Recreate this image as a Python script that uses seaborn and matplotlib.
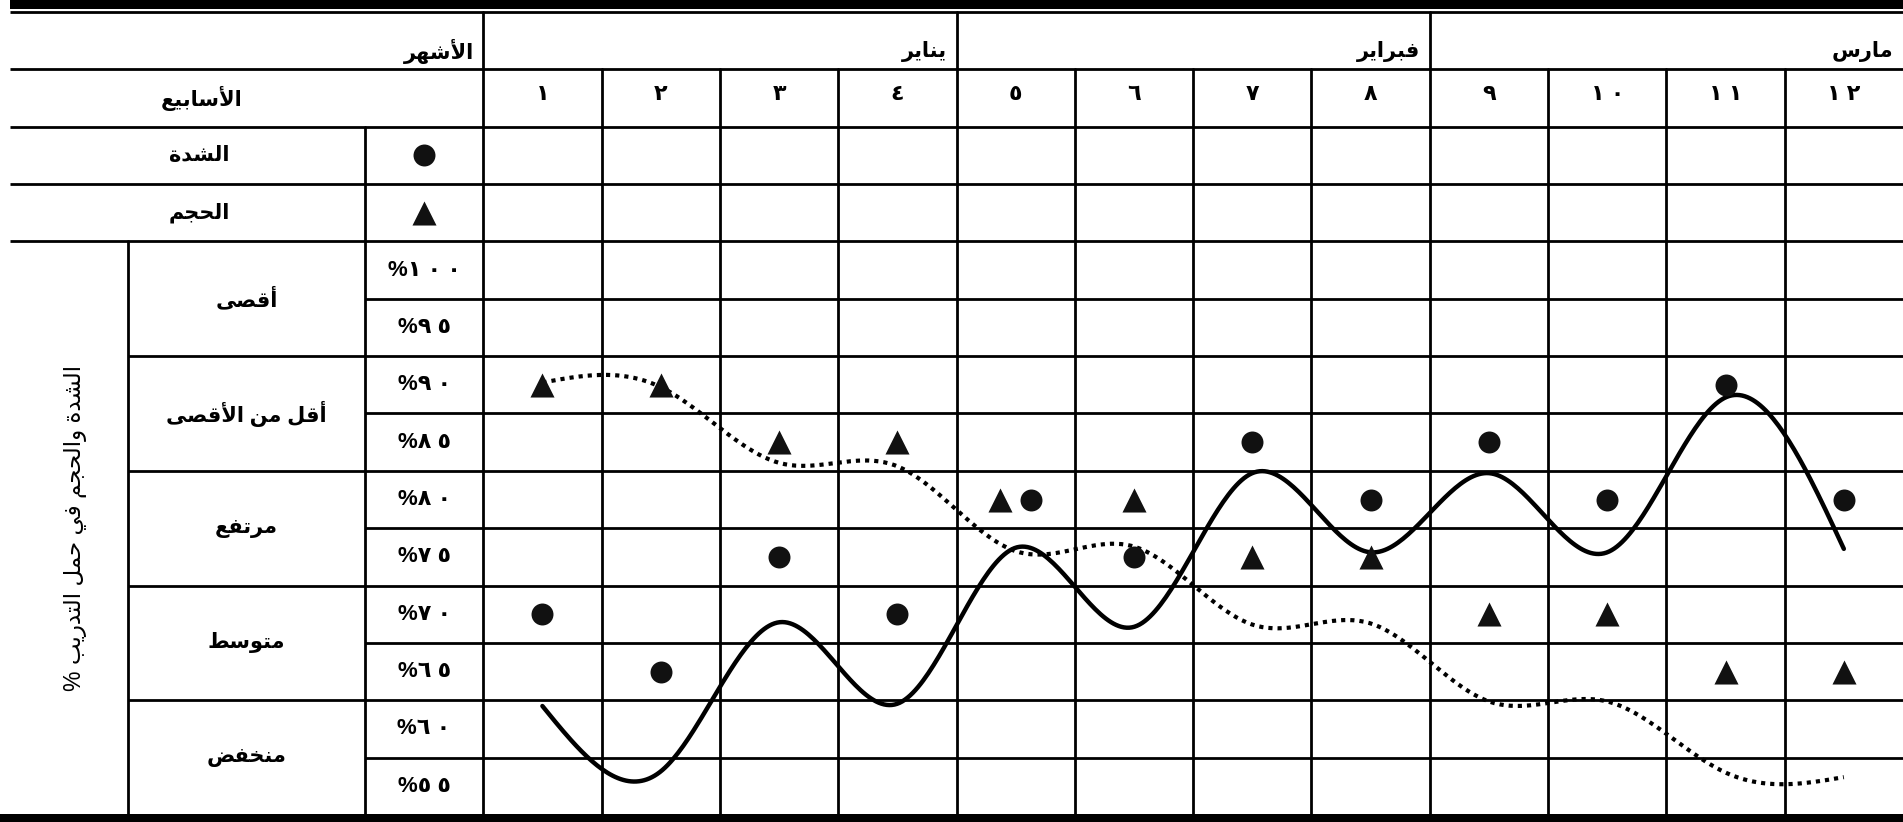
import numpy as np
import matplotlib
matplotlib.use("Agg")
import matplotlib.pyplot as plt
import seaborn as sns

# data
weeks = list(range(1, 13))
week_labels = ["١", "٢", "٣", "٤", "٥", "٦", "٧", "٨", "٩", "١٠", "١١", "١٢"]
months = ["يناير", "فبراير", "مارس"]
levels = [100, 95, 90, 85, 80, 75, 70, 65, 60, 55]
level_names = ["أقصى", "أقل من الأقصى", "مرتفع", "متوسط", "منخفض"]
intensity = [70, 65, 75, 70, 80, 75, 85, 80, 85, 80, 90, 80]
volume = [90, 90, 85, 85, 80, 80, 75, 75, 70, 70, 65, 65]
intensity_trend = [62.0, 56.3, 69.3, 62.2, 75.8, 68.9, 82.3, 75.4, 82.3, 75.4, 88.9, 75.7]
volume_trend = [90.2, 89.8, 83.2, 82.9, 75.5, 75.9, 69.1, 69.2, 62.4, 62.4, 56.2, 55.8]

txt_months = "الأشهر"
txt_weeks = "الأسابيع"
txt_intensity = "الشدة"
txt_volume = "الحجم"
txt_side = "الشدة والحجم في حمل التدريب %"

# --- minimal arabic shaping (matplotlib has no text shaping) ---
FORMS = {
    "ا": (0xFE8D, 2), "أ": (0xFE83, 2), "ب": (0xFE8F, 4), "ة": (0xFE93, 2),
    "ت": (0xFE95, 4), "ج": (0xFE9D, 4), "ح": (0xFEA1, 4), "خ": (0xFEA5, 4),
    "د": (0xFEA9, 2), "ر": (0xFEAD, 2), "س": (0xFEB1, 4), "ش": (0xFEB5, 4),
    "ص": (0xFEB9, 4), "ض": (0xFEBD, 4), "ط": (0xFEC1, 4), "ع": (0xFEC9, 4),
    "ف": (0xFED1, 4), "ق": (0xFED5, 4), "ل": (0xFEDD, 4), "م": (0xFEE1, 4),
    "ن": (0xFEE5, 4), "ه": (0xFEE9, 4), "و": (0xFEED, 2), "ى": (0xFEEF, 2),
    "ي": (0xFEF1, 4),
}
LAM_ALEF = {"ا": (0xFEFB, 2), "أ": (0xFEF7, 2)}


def shape(text):
    chars = []
    i = 0
    while i < len(text):
        c = text[i]
        if c == "ل" and i + 1 < len(text) and text[i + 1] in LAM_ALEF:
            chars.append((c, LAM_ALEF[text[i + 1]]))
            i += 2
        else:
            chars.append((c, FORMS.get(c)))
            i += 1
    out = []
    for k, (c, f) in enumerate(chars):
        if f is None:
            out.append(c)
            continue
        start, n = f
        prev = chars[k - 1][1] if k > 0 else None
        nxt = chars[k + 1][1] if k + 1 < len(chars) else None
        jp = prev is not None and prev[1] == 4
        jn = n == 4 and nxt is not None
        cp = start + (3 if jp and jn else 2 if jn else 1 if jp else 0)
        out.append(chr(cp))
    return "".join(reversed(out))


def to_ar(n):
    return "".join("٠١٢٣٤٥٦٧٨٩"[int(d)] for d in str(n))


def spaced(s):
    # the source font sets arabic-indic digits wide apart
    return " ".join(s)


def smooth(x, y, n=500):
    # natural cubic spline through the read knots
    x = np.asarray(x, float)
    y = np.asarray(y, float)
    h = np.diff(x)
    m = len(x)
    A = np.zeros((m, m))
    r = np.zeros(m)
    A[0, 0] = A[-1, -1] = 1
    for i in range(1, m - 1):
        A[i, i - 1], A[i, i], A[i, i + 1] = h[i - 1], 2 * (h[i - 1] + h[i]), h[i]
        r[i] = 6 * ((y[i + 1] - y[i]) / h[i] - (y[i] - y[i - 1]) / h[i - 1])
    M = np.linalg.solve(A, r)
    xs = np.linspace(x[0], x[-1], n)
    idx = np.clip(np.searchsorted(x, xs) - 1, 0, m - 2)
    x0, x1 = x[idx], x[idx + 1]
    hh = x1 - x0
    t0, t1 = x1 - xs, xs - x0
    ys = (M[idx] * t0 ** 3 + M[idx + 1] * t1 ** 3) / (6 * hh) \
        + (y[idx] / hh - M[idx] * hh / 6) * t0 + (y[idx + 1] / hh - M[idx + 1] * hh / 6) * t1
    return xs, ys


sns.set_theme(style="white")
plt.rcParams["font.family"] = ["Liberation Sans", "DejaVu Sans"]

fig = plt.figure(figsize=(19.03, 8.22), dpi=100)
ax = fig.add_axes([0, 0, 1, 1])

# table geometry in data units: one column = 1, one row = 5
TOP, BOT = 122.5, 52.5
LEFT, RIGHT = -3.5, 12.5
px_x = (1903 - 10) / 16
px_y = 57.36 / 5
ax.set_xlim(LEFT - 10 / px_x, RIGHT)
ax.set_ylim(BOT - 7 / px_y, TOP + 12 / px_y)
ax.axis("off")

lw = 2.0
K = "black"
# heavy rules
ax.fill_between([LEFT, RIGHT], TOP + 3 / px_y, TOP + 13 / px_y, color=K, lw=0)
ax.fill_between([LEFT - 1, RIGHT], BOT - 10 / px_y, BOT + 1.5 / px_y, color=K, lw=0)

# horizontal rules of the header rows
for y in [TOP, 117.5, 112.5, 107.5, 102.5]:
    ax.plot([LEFT, RIGHT], [y, y], color=K, lw=lw, solid_capstyle="butt")
# rules between level rows
for v in levels[:-1]:
    y = v - 2.5
    x0 = -2.5 if (100 - v) % 10 == 5 else -0.5
    ax.plot([x0, RIGHT], [y, y], color=K, lw=lw, solid_capstyle="butt")
# vertical rules
ax.plot([-2.5, -2.5], [BOT, 102.5], color=K, lw=lw)
ax.plot([-0.5, -0.5], [BOT, 112.5], color=K, lw=lw)
ax.plot([0.5, 0.5], [BOT, TOP], color=K, lw=lw)
for w in weeks[:-1]:
    ax.plot([w + 0.5, w + 0.5], [BOT, TOP if w % 4 == 0 else 117.5], color=K, lw=lw)

bold = dict(fontweight="bold", color=K, fontsize=15)
nums = dict(fontweight="bold", color=K, fontsize=16)
pad = 0.08
ax.text(0.5 - pad, 119.1, shape(txt_months), ha="right", va="center", **bold)
for i, mname in enumerate(months):
    ax.text(4.5 + 4 * i - pad, 119.1, shape(mname), ha="right", va="center", **bold)
ax.text(-1.88, 115.0, shape(txt_weeks), ha="center", va="center", **bold)
for w, lab in zip(weeks, week_labels):
    ax.text(w, 115.3, spaced(lab), ha="center", va="center", **nums)
ax.text(-1.9, 110.0, shape(txt_intensity), ha="center", va="center", **bold)
ax.text(-1.9, 105.0, shape(txt_volume), ha="center", va="center", **bold)
for v in levels:
    ax.text(0, v, "%" + spaced(to_ar(v)), ha="center", va="center", **nums)
for i, name in enumerate(level_names):
    ax.text(-1.5, (levels[2 * i] + levels[2 * i + 1]) / 2, shape(name),
            ha="center", va="center", **bold)
ax.text(-2.95, 77.5, shape(txt_side), rotation=90, ha="center", va="center",
        fontsize=16.5, color=K)

# legend glyphs in the key rows
sns.scatterplot(x=[0], y=[110], marker="o", s=250, color="#111111", linewidth=0, ax=ax)
sns.scatterplot(x=[0], y=[105], marker="^", s=300, color="#111111", linewidth=0, ax=ax)

# trend curves
xs, ys = smooth(weeks, intensity_trend)
sns.lineplot(x=xs, y=ys, color=K, lw=3.2, sort=False, estimator=None, ax=ax)
xs, ys = smooth(weeks, volume_trend)
sns.lineplot(x=xs, y=ys, color=K, lw=3.0, sort=False, estimator=None,
             linestyle=(0, (1.0, 1.2)), ax=ax)

# weekly markers; dodge when both share a cell
wk = np.array(weeks, float)
same = np.array(intensity) == np.array(volume)
sns.scatterplot(x=wk + np.where(same, 0.13, 0), y=intensity, marker="o", s=250,
                color="#111111", linewidth=0, ax=ax, zorder=5)
sns.scatterplot(x=wk - np.where(same, 0.13, 0), y=volume, marker="^", s=300,
                color="#111111", linewidth=0, ax=ax, zorder=5)

fig.savefig("out.png", dpi=100)
